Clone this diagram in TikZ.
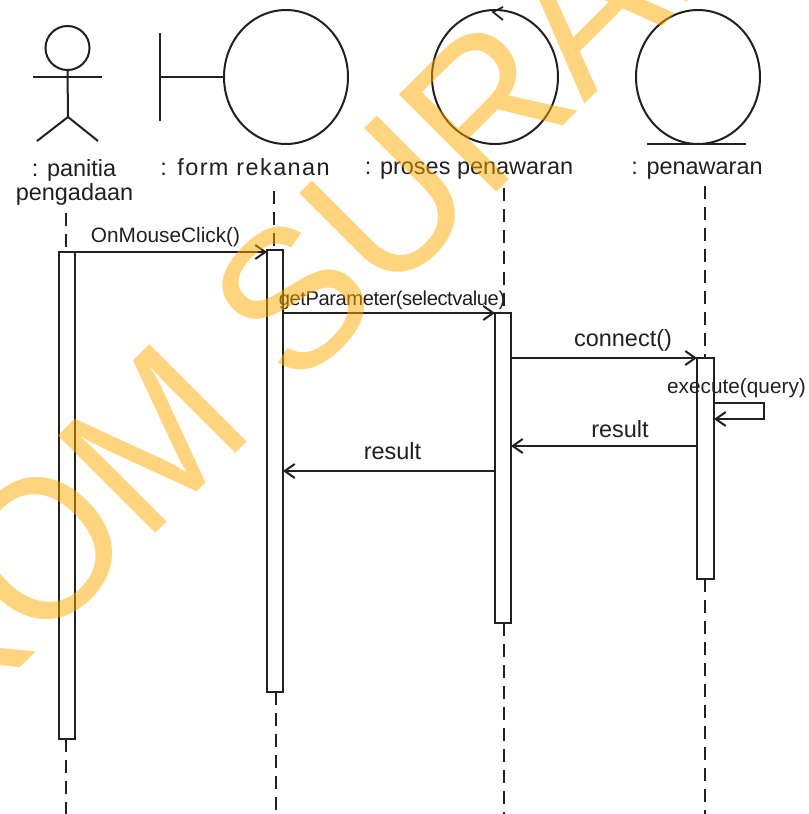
\documentclass[tikz,border=0pt]{standalone}
\usepackage{fontspec}
\setmainfont{Liberation Sans}
\usetikzlibrary{shapes.geometric,arrows.meta,calc}
\definecolor{ink}{HTML}{231F20}
\definecolor{wm}{HTML}{FFAA00}
\tikzset{
  px/.style={x=0.75pt,y=-0.75pt},
  ln/.style={draw=ink,line width=1.5pt},
  round/.style={shape=ellipse,ln,inner sep=0pt,outer sep=0pt,minimum width=#1*0.75pt,minimum height=100.5pt},
  bar/.style={shape=rectangle,ln,inner sep=0pt,outer sep=0pt,minimum width=12pt},
  life/.style={ln,dash pattern=on 9.75pt off 6pt},
  msg/.style={ln,-{Straight Barb[length=7.5pt,width=10.5pt,line width=1.5pt]}},
  big/.style={text=ink,inner sep=0pt,anchor=base,font=\fontsize{17.6pt}{20pt}\selectfont},
  small/.style={text=ink,inner sep=0pt,anchor=base,font=\fontsize{15.6pt}{18pt}\selectfont},
}
\begin{document}
\begin{tikzpicture}[px]
\useasboundingbox (0,0) rectangle (808,814);
% actor
\node[round=44,minimum height=33pt] (head) at (67.5,48) {};
\coordinate (arml) at (33,77); \coordinate (armr) at (102,77);
\coordinate (hip) at (68,117); \coordinate (legl) at (37,141); \coordinate (legr) at (98,141);
\draw[ln] (arml) -- (armr);
\draw[ln] (head.south) -- (hip);
\draw[ln] (legl) -- (hip) -- (legr);
% boundary
\node[round=124] (boundary) at (286,77) {};
\coordinate (bt) at (160,33); \coordinate (bb) at (160,121); \coordinate (bm) at (160,77);
\draw[ln] (bt) -- (bb);
\draw[ln] (bm) -- (boundary.west);
% control
\node[round=126] (control) at (495,77) {};
\coordinate (cw1) at (503,7); \coordinate (cw2) at (503,20); \coordinate (ct) at (493,12);
\draw[ln,line width=1.3pt] (cw1) -- (ct) -- (cw2);
% entity
\node[round=124] (entity) at (698,77) {};
\coordinate (el) at (647,144); \coordinate (er) at (746,144);
\draw[ln] (el) -- (er);
% labels
\node[big] (l1a) at (74,176) {: panitia};
\node[big] (l1b) at (74.5,200.5) {pengadaan};
\node[big] (l2) at (245,175.5) {\addfontfeature{LetterSpace=6}: form rekanan};
\node[big] (l3) at (469,174.5) {: proses penawaran};
\node[big] (l4) at (697,174.5) {: penawaran};
% activation bars
\node[bar,minimum height=365.25pt] (b1) at (67,495.5) {};
\node[bar,minimum height=331.5pt] (b2) at (275,471) {};
\node[bar,minimum height=232.5pt] (b3) at (503,468) {};
\node[bar,minimum height=165.75pt,minimum width=12.75pt] (b4) at (705.5,468.5) {};
% lifelines
\coordinate (t1) at (66,213); \coordinate (t2) at (274,191); \coordinate (t3) at (504,188); \coordinate (t4) at (705,186);
\coordinate (e1) at (66,814); \coordinate (e2) at (276,814); \coordinate (e3) at (504,814); \coordinate (e4) at (705,814);
\draw[life] (t1) -- (t1 |- b1.north);
\draw[life] (t2) -- (t2 |- b2.north);
\draw[life] (t3) -- (t3 |- b3.north);
\draw[life] (t4) -- (t4 |- b4.north);
\draw[life] (e1 |- b1.south) -- (e1);
\draw[life] (e2 |- b2.south) -- (e2);
\draw[life] (e3 |- b3.south) -- (e3);
\draw[life] (e4 |- b4.south) -- (e4);
% messages
\coordinate (m1) at (0,252); \coordinate (m2) at (0,313); \coordinate (m3) at (0,358);
\coordinate (m4) at (0,403); \coordinate (m5) at (0,419); \coordinate (m6) at (0,446); \coordinate (m7) at (0,471);
\coordinate (sx) at (764,0);
\draw[msg] (b1.east |- m1) -- (b2.west |- m1);
\draw[msg] (b2.east |- m2) -- (b3.west |- m2);
\draw[msg] (b3.east |- m3) -- (b4.west |- m3);
\draw[msg] (b4.east |- m4) -- (sx |- m4) -- (sx |- m5) -- (b4.east |- m5);
\draw[msg] (b4.west |- m6) -- (b3.east |- m6);
\draw[msg] (b3.west |- m7) -- (b2.east |- m7);
\node[small] (t-click) at (165.5,242) {OnMouseClick()};
\node[small,font=\fontsize{15.1pt}{18pt}\selectfont] (t-get) at (392,305) {\addfontfeature{LetterSpace=-2}getParameter(selectvalue)};
\node[big] (t-conn) at (623,346) {connect()};
\node[small] (t-exec) at (736.5,393) {execute(query)};
\node[big] (t-res1) at (620,437) {result};
\node[big] (t-res2) at (392.5,459) {result};
% watermark
\begin{scope}
\clip (0,0) rectangle (808,814);
\node[rotate=45,anchor=base west,inner sep=0pt,text=wm,text opacity=0.5,font=\fontsize{143pt}{150pt}\selectfont] (mark) at (-266.2,954.7) {\scalebox{1.0134}[1.05]{STIKOM SURABAYA}};
\end{scope}
\end{tikzpicture}
\end{document}
